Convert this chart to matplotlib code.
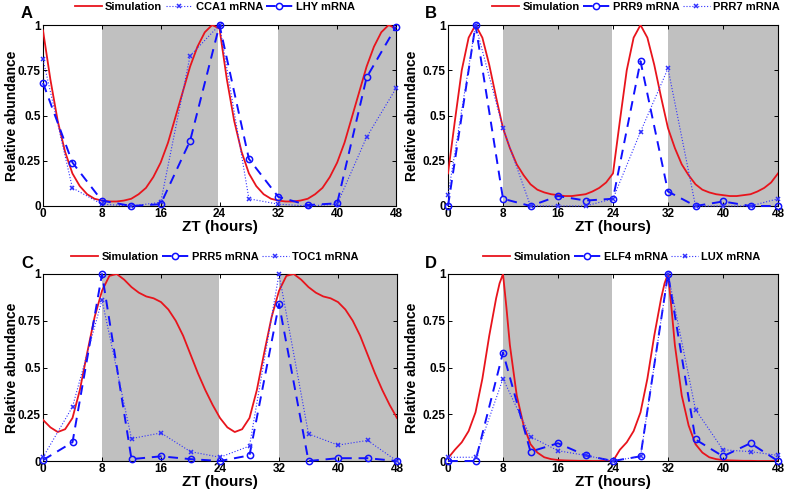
import numpy as np
import matplotlib
matplotlib.use("Agg")
import matplotlib.pyplot as plt

plt.rcParams['font.family'] = ['Liberation Sans', 'DejaVu Sans']
plt.rcParams['font.weight'] = 'bold'

# sampling times of the measured mRNA (ZT hours)
zt = [0, 4, 8, 12, 16, 20, 24, 28, 32, 36, 40, 44, 48]

# simulation curves (hourly, one day; the second day repeats)
sim_t = list(range(0, 25))
sim_A = [0.97, 0.70, 0.47, 0.30, 0.18, 0.11, 0.065, 0.04, 0.03, 0.025, 0.025, 0.03,
         0.04, 0.065, 0.10, 0.16, 0.24, 0.35, 0.49, 0.63, 0.77, 0.88, 0.96, 1.0, 0.98]
sim_B = [0.18, 0.47, 0.75, 0.93, 1.0, 0.93, 0.78, 0.60, 0.43, 0.32, 0.23, 0.17,
         0.12, 0.09, 0.075, 0.065, 0.06, 0.055, 0.055, 0.06, 0.065, 0.08, 0.10, 0.13, 0.18]
sim_C = [0.22, 0.18, 0.155, 0.17, 0.23, 0.38, 0.58, 0.77, 0.91, 0.99, 1.0, 0.97,
         0.93, 0.90, 0.88, 0.87, 0.85, 0.81, 0.75, 0.67, 0.57, 0.47, 0.38, 0.30, 0.23]
sim_tD = [0, 1, 2, 3, 4, 5, 6, 7, 7.5, 8, 8.5, 9, 10, 11, 12, 13, 14, 15, 16, 17,
          18, 19, 20, 21, 22, 23, 24]
sim_D = [0.015, 0.06, 0.10, 0.16, 0.26, 0.44, 0.67, 0.87, 0.95, 1.0, 0.82, 0.62,
         0.35, 0.19, 0.09, 0.045, 0.02, 0.01, 0.005, 0.003, 0.002, 0.001, 0.001,
         0.0, 0.0, 0.0, 0.0]

# data
cca1 = [0.81, 0.10, 0.01, 0.0, 0.02, 0.83, 1.0, 0.04, 0.01, 0.0, 0.01, 0.38, 0.65]
lhy = [0.68, 0.24, 0.03, 0.0, 0.01, 0.36, 1.0, 0.26, 0.05, 0.005, 0.015, 0.71, 0.99]
prr9 = [0.0, 1.0, 0.04, 0.0, 0.055, 0.03, 0.04, 0.80, 0.08, 0.0, 0.025, 0.0, 0.0]
prr7 = [0.06, 1.0, 0.43, 0.0, 0.0, 0.0, 0.04, 0.41, 0.76, 0.0, 0.0, 0.0, 0.04]
prr5 = [0.005, 0.10, 1.0, 0.01, 0.025, 0.01, 0.0, 0.03, 0.84, 0.0, 0.015, 0.015, 0.0]
toc1 = [0.02, 0.29, 0.86, 0.12, 0.15, 0.05, 0.02, 0.08, 1.0, 0.145, 0.085, 0.11, 0.0]
elf4 = [0.0, 0.0, 0.58, 0.05, 0.095, 0.03, 0.0, 0.025, 1.0, 0.115, 0.025, 0.095, 0.0]
lux = [0.02, 0.02, 0.44, 0.13, 0.055, 0.03, 0.0, 0.025, 1.0, 0.275, 0.06, 0.05, 0.03]

W, H = 787, 495
fig = plt.figure(figsize=(W / 100, H / 100), dpi=100)


def px_axes(x0, x1, y0, y1):
    return fig.add_axes([x0 / W, 1 - y1 / H, (x1 - x0) / W, (y1 - y0) / H])


def two_days(t, v):
    t = np.asarray(t, float)
    v = np.asarray(v, float)
    return np.concatenate([t, t[1:] + 24]), np.concatenate([v, v[1:]])


panels = [
    ("A", (43, 396, 25, 206), sim_t, sim_A,
     [("CCA1 mRNA", cca1, 'dot'), ("LHY mRNA", lhy, 'dash')], 215, 7, 14),
    ("B", (448, 778, 25, 206), sim_t, sim_B,
     [("PRR9 mRNA", prr9, 'dash'), ("PRR7 mRNA", prr7, 'dot')], 636, 7, 14),
    ("C", (43, 397, 274, 461), sim_t, sim_C,
     [("PRR5 mRNA", prr5, 'dash'), ("TOC1 mRNA", toc1, 'dot')], 215, 257, 14),
    ("D", (448, 778, 274, 461), sim_tD, sim_D,
     [("ELF4 mRNA", elf4, 'dash'), ("LUX mRNA", lux, 'dot')], 622, 257, 14),
]

for letter, box, st, sv, series, lx, ly, xl_gap in panels:
    ax = px_axes(*box)
    ax.axvspan(8, 23.85, color='#c0c0c0', lw=0, zorder=0)
    ax.axvspan(32, 48, color='#c0c0c0', lw=0, zorder=0)
    t2, v2 = two_days(st, sv)
    ax.plot(t2, v2, color='#e8141c', lw=1.3, label='Simulation', zorder=3)
    for name, vals, kind in series:
        if kind == 'dash':
            ax.plot(zt, vals, color='#1010ff', lw=1.4, ls=(0, (5, 3.5)),
                    marker='o', ms=4.5, mfc='none', mew=1.1, label=name,
                    zorder=4, clip_on=False)
        else:
            ax.plot(zt, vals, color='#3030ff', lw=0.8, ls=':',
                    marker='x', ms=3.2, mew=1.1, label=name, zorder=4,
                    clip_on=False)
    ax.set_xlim(0, 48)
    ax.set_ylim(0, 1)
    ax.set_xticks([0, 8, 16, 24, 32, 40, 48])
    ax.set_yticks([0, 0.25, 0.5, 0.75, 1])
    ax.set_yticklabels(['0', '0.25', '0.5', '0.75', '1'])
    ax.tick_params(direction='in', top=True, right=True, length=3, width=0.7,
                   labelsize=8.5, pad=1.5)
    for lab in ax.get_xticklabels() + ax.get_yticklabels():
        lab.set_fontweight('bold')
    for s in ax.spines.values():
        s.set_linewidth(0.8)
    ax.set_xlabel('ZT (hours)', fontsize=11, fontweight='bold')
    ax.set_ylabel('Relative abundance', fontsize=10, fontweight='bold')
    hpx = box[3] - box[2]
    wpx = box[1] - box[0]
    ax.xaxis.set_label_coords(0.5, -xl_gap / hpx)
    ylx = 19 if box[0] < 100 else 419
    ax.yaxis.set_label_coords((ylx - box[0]) / wpx, 0.5)
    ax.legend(loc='center', bbox_to_anchor=(lx / W, 1 - ly / H),
              bbox_transform=fig.transFigure, ncol=3, frameon=False,
              prop={'size': 8, 'weight': 'bold'}, handlelength=2.4,
              handletextpad=0.3, columnspacing=0.3, borderpad=0)
    tx = 27 if box[0] < 100 else 431
    fig.text(tx / W, 1 - (ly + 6) / H, letter, fontsize=12, fontweight='bold',
             ha='center', va='center')

fig.savefig('out.png', dpi=100)
